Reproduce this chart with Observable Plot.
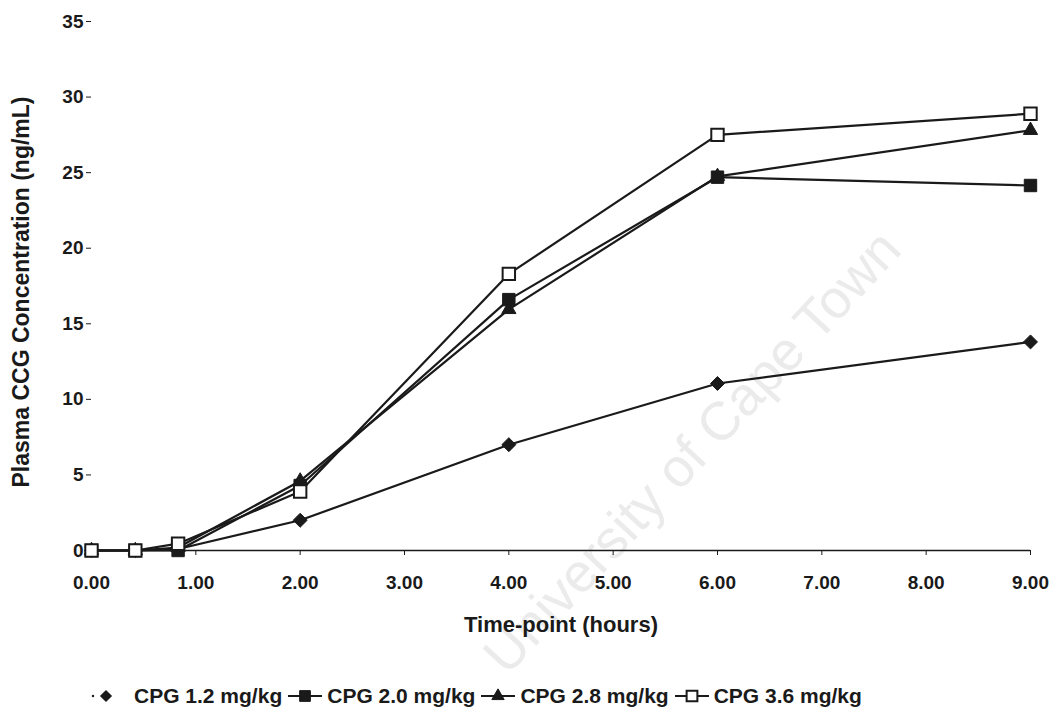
<!DOCTYPE html>
<html><head><meta charset="utf-8">
<script src="https://cdn.jsdelivr.net/npm/d3@7"></script>
<script src="https://cdn.jsdelivr.net/npm/@observablehq/plot@0.6"></script>
<style>
body{margin:0;background:#fff;font-family:"Liberation Sans",Arial,sans-serif;}
#wrap{position:relative;width:1057px;height:715px;overflow:hidden;}
#legend{position:absolute;left:88px;top:684px;display:flex;align-items:center;font-weight:bold;font-size:21px;color:#1a1a1a;white-space:nowrap;}
#legend .item{display:flex;align-items:center;margin-right:3px;}
#legend svg{display:block;}
#legend span{margin-left:2px;}
</style></head><body><div id="wrap"></div>
<script>
const times = [0, 0.42, 0.83, 2, 4, 6, 9];
const seriesNames = ["CPG 1.2 mg/kg", "CPG 2.0 mg/kg", "CPG 2.8 mg/kg", "CPG 3.6 mg/kg"];
const cpg12 = [0, 0, 0.1, 2.0, 7.0, 11.05, 13.8];
const cpg20 = [0, 0, 0, 4.3, 16.6, 24.7, 24.15];
const cpg28 = [0, 0, 0.2, 4.6, 15.95, 24.75, 27.8];
const cpg36 = [0, 0, 0.45, 3.9, 18.3, 27.5, 28.9];
const xTicks = [0, 1, 2, 3, 4, 5, 6, 7, 8, 9];
const yTicks = [0, 5, 10, 15, 20, 25, 30, 35];
const xTitle = "Time-point (hours)";
const yTitle = "Plasma CCG Concentration (ng/mL)";
const watermark = "University of Cape Town";

const seriesValues = [cpg12, cpg20, cpg28, cpg36];
const symbols = ["diamond2", "square", "triangle", "square"];
const fills = ["#1a1a1a", "#1a1a1a", "#1a1a1a", "#ffffff"];
const radii = [6.3, 7, 5.3, 7];

const data = [];
seriesNames.forEach((s, i) => times.forEach((t, j) => data.push({series: s, time: t, value: seriesValues[i][j]})));

const ink = "#1a1a1a";
const marks = [
  Plot.text([watermark], {frameAnchor: "top-left", dx: 784, dy: 204, rotate: -47, textAnchor: "end",
    fontSize: 54, fill: "#ebebeb", fontFamily: "Liberation Sans, Arial, sans-serif"}),
  Plot.ruleY([0], {stroke: ink, strokeWidth: 1.5}),
  Plot.axisX({ticks: xTicks, tickFormat: d3.format(".2f"), tickSize: 5, tickPadding: 20, fontSize: 19, fontWeight: "bold", label: null}),
  Plot.axisY({ticks: yTicks, tickSize: 5, tickPadding: 3, fontSize: 19, fontWeight: "bold", label: null}),
  Plot.text([xTitle], {frameAnchor: "bottom", dy: 81, fontSize: 22, fontWeight: "bold", fill: ink}),
  Plot.text([yTitle], {frameAnchor: "left", textAnchor: "middle", dx: -70, dy: 6, rotate: -90, fontSize: 23, fontWeight: "bold", fill: ink}),
  Plot.line(data, {x: "time", y: "value", z: "series", stroke: ink, strokeWidth: 2.2})
];
seriesNames.forEach((s, i) => {
  marks.push(Plot.dot(data.filter(d => d.series === s), {x: "time", y: "value", symbol: () => symbols[i], r: radii[i],
    fill: fills[i], stroke: ink, strokeWidth: i === 3 ? 2 : 1}));
});

const chart = Plot.plot({
  width: 1057, height: 670,
  marginLeft: 91, marginRight: 27, marginTop: 21, marginBottom: 120,
  style: {fontFamily: "Liberation Sans, Arial, sans-serif", color: ink, background: "transparent", overflow: "visible"},
  x: {domain: [0, 9]},
  y: {domain: [0, 35]},
  symbol: {type: "identity"},
  marks
});
const wrap = document.getElementById("wrap");
wrap.appendChild(chart);

// legend
const legend = document.createElement("div");
legend.id = "legend";
seriesNames.forEach((s, i) => {
  const item = document.createElement("div");
  item.className = "item";
  const w = i === 0 ? 44 : 40;
  const svg = d3.create("svg").attr("width", w).attr("height", 24);
  if (i === 0) {
    svg.append("circle").attr("cx", 5).attr("cy", 12).attr("r", 1.2).attr("fill", ink);
    svg.append("path").attr("transform", "translate(18,12)")
      .attr("d", d3.symbol(d3.symbolDiamond2, Math.PI * 5.5 * 5.5)()).attr("fill", ink);
  } else {
    svg.append("line").attr("x1", 3).attr("x2", 37).attr("y1", 12).attr("y2", 12).attr("stroke", ink).attr("stroke-width", 2.2);
    const sym = symbols[i] === "triangle" ? d3.symbolTriangle : d3.symbolSquare;
    svg.append("path").attr("transform", "translate(20,12)")
      .attr("d", d3.symbol(sym, Math.PI * radii[i] * radii[i] * 0.75)())
      .attr("fill", fills[i]).attr("stroke", ink).attr("stroke-width", i === 3 ? 2 : 1);
  }
  item.appendChild(svg.node());
  const span = document.createElement("span");
  span.textContent = s;
  item.appendChild(span);
  legend.appendChild(item);
});
wrap.appendChild(legend);
</script></body></html>
